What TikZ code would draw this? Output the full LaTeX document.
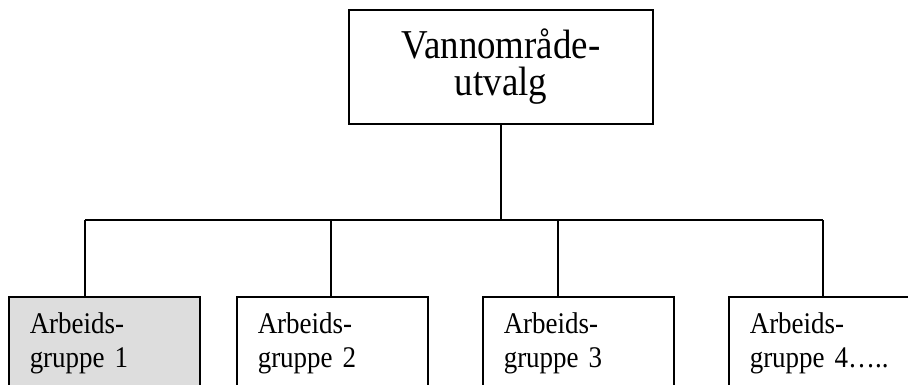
\documentclass[tikz,border=0pt]{standalone}
\usepackage{fontspec}
\setmainfont{Liberation Serif}[FakeStretch=0.9]
\definecolor{groupgray}{RGB}{221,221,221}
\newcommand*\groupbox[4][]{%
    % #2: name, #3: left edge, #4: text
    \node[draw,fill=white,anchor=north west,minimum width=191pt,minimum height=94pt,
        inner xsep=21pt,text width=149pt,align=left,font=\fontsize{30}{34}\selectfont,#1] (#2) at (#3,296) {#4};
}

\begin{document}
\begin{tikzpicture}[x=1pt,y=-1pt,line width=1.5pt]
    \useasboundingbox (0,0) rectangle (908,385);
    \clip (0,0) rectangle (908,385);
    \node[draw,minimum width=304pt,minimum height=114pt,align=center,font=\fontsize{41}{37}\selectfont] (utvalg) at (501,67) {Vannområde-\\utvalg};
    \groupbox[fill=groupgray]{grp-1}{8}{Arbeids-\\gruppe 1}
    \groupbox{grp-2}{236}{Arbeids-\\gruppe 2}
    \groupbox{grp-3}{482}{Arbeids-\\gruppe 3}
    \groupbox{grp-4}{728}{Arbeids-\\gruppe 4…..}
    \foreach \i/\x in {1/85,2/331,3/558,4/823}{
        \coordinate (drop-\i) at (\x,220);
        \draw (drop-\i) -- (drop-\i |- grp-\i.north);
    }
    \draw (drop-1) -- (drop-4);
    \draw (utvalg.south) -- (utvalg.south |- drop-1);
\end{tikzpicture}
\end{document}
